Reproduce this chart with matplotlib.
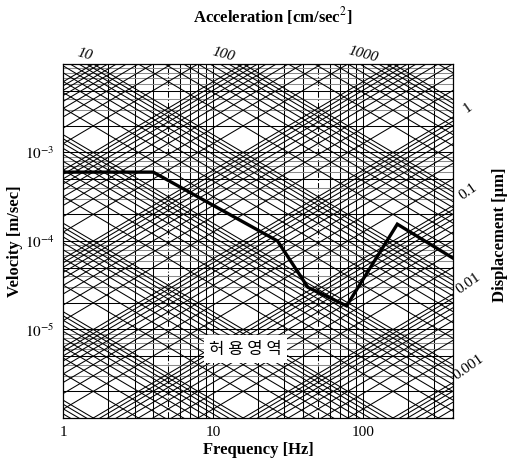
import numpy as np
import matplotlib
matplotlib.use("Agg")
import matplotlib.pyplot as plt

plt.rcParams['font.family'] = ['Liberation Serif', 'DejaVu Serif']
plt.rcParams['mathtext.fontset'] = 'stix'

# allowable vibration curve (frequency in Hz, velocity in m/sec)
freq = [1, 4, 27, 43, 78, 170, 400]
vel = [6.0e-4, 6.0e-4, 1.0e-4, 3.0e-5, 1.85e-5, 1.55e-4, 6.4e-5]

x_ticks = [1, 10, 100]
x_ticklabels = ['1', '10', '100']
y_ticks = [1e-5, 1e-4, 1e-3]
y_ticklabels = [r'$10^{-5}$', r'$10^{-4}$', r'$10^{-3}$']

acc_labels = ['10', '100', '1000']          # cm/sec^2
disp_labels = ['1', '0.1', '0.01', '0.001']  # um

f_min, f_max = 1, 400
v_min, v_max = 1e-6, 1e-2

fig = plt.figure(figsize=(5.09, 4.63), dpi=100)
ax = fig.add_axes([0.1238, 0.0972, 0.7662, 0.7646])
ax.set_xscale('log')
ax.set_yscale('log')

lw = 0.75
decades = [10.0 ** n for n in range(-6, 5)]
minors = [k * d for d in decades for k in range(1, 10)]

# vertical grid (frequency)
for f in minors:
    if f_min < f < f_max:
        ls = (0, (6, 2, 1, 2)) if f in (5, 50) else '-'
        ax.axvline(f, color='black', lw=lw, ls=ls, zorder=1)

# horizontal grid (velocity)
for v in minors:
    if v_min < v < v_max:
        c = 'black' if round(v / 10 ** np.floor(np.log10(v) + 1e-9)) in (1, 2, 5) else '0.55'
        ax.axhline(v, color=c, lw=lw, zorder=1)

fl = np.array([0.1, 10000.0])
# constant acceleration lines, a in cm/sec^2 -> v = a/100 / (2 pi f)
for a in minors:
    if 1e-4 <= a <= 1e5:
        ax.plot(fl, a / 100 / (2 * np.pi * fl), color='black', lw=lw, zorder=1)
# constant displacement lines, d in um -> v = 2 pi f d * 1e-6
for d in minors:
    if 1e-5 <= d <= 1e5:
        ax.plot(fl, 2 * np.pi * fl * d * 1e-6, color='black', lw=lw, zorder=1)

ax.set_xlim(f_min, f_max)
ax.set_ylim(v_min, v_max)

ax.plot(freq, vel, color='black', lw=2.4, solid_joinstyle='miter', zorder=3)

ax.set_xticks(x_ticks)
ax.set_xticklabels(x_ticklabels, fontsize=11)
ax.set_yticks(y_ticks)
ax.set_yticklabels(y_ticklabels, fontsize=11)
ax.minorticks_off()
ax.tick_params(length=0, pad=6)
for s in ax.spines.values():
    s.set_linewidth(0.9)

ax.set_xlabel('Frequency [Hz]', fontsize=12, fontweight='bold', labelpad=2)
ax.set_ylabel('Velocity [m/sec]', fontsize=12, fontweight='bold', labelpad=1)

# acceleration labels along the top
for txt, xx in zip(acc_labels, [85, 223, 363]):
    fig.text(xx / 509, 1 - 55 / 463, txt, fontsize=11, style='italic',
             rotation=-15, ha='center', va='center')
fig.text(273 / 509, 1 - 16 / 463, 'Acceleration [cm/sec$^{2}$]', fontsize=12,
         fontweight='bold', ha='center', va='center')

# displacement labels on the right
for txt, yy in zip(disp_labels, [108, 192, 283, 367]):
    fig.text(468 / 509, 1 - yy / 463, txt, fontsize=11, rotation=35,
             ha='center', va='center')
fig.text(500 / 509, 1 - 235 / 463, 'Displacement [µm]', fontsize=12,
         fontweight='bold', rotation=90, ha='center', va='center')

ax.text(16.5, 6.0e-6, '허 용 영 역', fontsize=12, family=['Noto Sans CJK KR', 'DejaVu Sans'],
        ha='center', va='center', zorder=4,
        bbox=dict(facecolor='white', edgecolor='none', pad=4))

fig.savefig('out.png', dpi=100)
